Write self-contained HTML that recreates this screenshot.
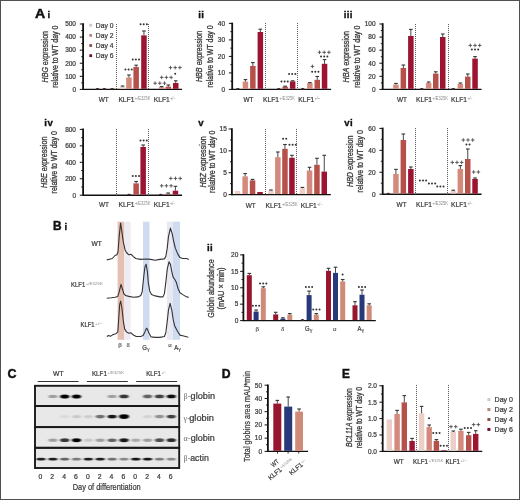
<!DOCTYPE html>
<html><head><meta charset="utf-8"><style>
html,body{margin:0;padding:0;background:#fff;}
svg{display:block;will-change:transform;}
text{font-family:"Liberation Sans", sans-serif;}
</style></head><body>
<svg width="520" height="500" viewBox="0 0 520 500">
<g fill="#3a3a3a" stroke-width="0.22">
<rect x="0" y="0" width="520" height="500" fill="#fff"/>
<text x="35.00" y="17.60" font-size="12.4" fill="#111" stroke="#111" stroke-width="0.45" font-weight="bold" textLength="10.20" lengthAdjust="spacingAndGlyphs">A</text>
<text x="48.90" y="17.60" font-size="9.6" font-weight="bold" text-anchor="middle" fill="#111" stroke="#111" stroke-width="0.35">i</text>
<line x1="83.10" y1="23.20" x2="83.10" y2="90.00" stroke="#111" stroke-width="1.8"/>
<line x1="79.80" y1="89.40" x2="83.00" y2="89.40" stroke="#111" stroke-width="1.0"/>
<text x="76.00" y="91.70" font-size="6.5" text-anchor="end" fill="#3a3a3a" stroke="#3a3a3a" stroke-width="0.22">0</text>
<line x1="81.20" y1="82.86" x2="83.00" y2="82.86" stroke="#111" stroke-width="0.9"/>
<line x1="79.80" y1="76.32" x2="83.00" y2="76.32" stroke="#111" stroke-width="1.0"/>
<text x="76.00" y="78.62" font-size="6.5" text-anchor="end" fill="#3a3a3a" stroke="#3a3a3a" stroke-width="0.22">100</text>
<line x1="81.20" y1="69.78" x2="83.00" y2="69.78" stroke="#111" stroke-width="0.9"/>
<line x1="79.80" y1="63.24" x2="83.00" y2="63.24" stroke="#111" stroke-width="1.0"/>
<text x="76.00" y="65.54" font-size="6.5" text-anchor="end" fill="#3a3a3a" stroke="#3a3a3a" stroke-width="0.22">200</text>
<line x1="81.20" y1="56.70" x2="83.00" y2="56.70" stroke="#111" stroke-width="0.9"/>
<line x1="79.80" y1="50.16" x2="83.00" y2="50.16" stroke="#111" stroke-width="1.0"/>
<text x="76.00" y="52.46" font-size="6.5" text-anchor="end" fill="#3a3a3a" stroke="#3a3a3a" stroke-width="0.22">300</text>
<line x1="81.20" y1="43.62" x2="83.00" y2="43.62" stroke="#111" stroke-width="0.9"/>
<line x1="79.80" y1="37.08" x2="83.00" y2="37.08" stroke="#111" stroke-width="1.0"/>
<text x="76.00" y="39.38" font-size="6.5" text-anchor="end" fill="#3a3a3a" stroke="#3a3a3a" stroke-width="0.22">400</text>
<line x1="81.20" y1="30.54" x2="83.00" y2="30.54" stroke="#111" stroke-width="0.9"/>
<line x1="79.80" y1="24.00" x2="83.00" y2="24.00" stroke="#111" stroke-width="1.0"/>
<text x="76.00" y="26.30" font-size="6.5" text-anchor="end" fill="#3a3a3a" stroke="#3a3a3a" stroke-width="0.22">500</text>
<text x="47.80" y="56.70" font-size="8.3" stroke="#3a3a3a" stroke-width="0.3" text-anchor="middle" textLength="51.40" lengthAdjust="spacingAndGlyphs" transform="rotate(-90 47.80 56.70)"><tspan font-style="italic">HBG</tspan> expression</text>
<text x="57.60" y="56.70" font-size="8.3" text-anchor="middle" fill="#3a3a3a" stroke="#3a3a3a" stroke-width="0.3" textLength="62.20" lengthAdjust="spacingAndGlyphs" transform="rotate(-90 57.60 56.70)">relative to WT day 0</text>
<line x1="83.00" y1="89.40" x2="182.00" y2="89.40" stroke="#111" stroke-width="1.4"/>
<line x1="116.50" y1="24.00" x2="116.50" y2="89.40" stroke="#5a5a5a" stroke-width="1.0" stroke-dasharray="1 1"/>
<line x1="148.50" y1="24.00" x2="148.50" y2="89.40" stroke="#5a5a5a" stroke-width="1.0" stroke-dasharray="1 1"/>
<ellipse cx="97.55" cy="88.80" rx="1.76" ry="0.9" fill="#3a2a2a"/>
<ellipse cx="104.35" cy="88.80" rx="1.76" ry="0.9" fill="#3a2a2a"/>
<rect x="109.40" y="88.70" width="5.50" height="0.10" fill="#9c1431"/>
<ellipse cx="112.15" cy="88.80" rx="1.76" ry="0.9" fill="#3a2a2a"/>
<rect x="119.80" y="86.80" width="5.50" height="2.00" fill="#ecd0c8"/>
<line x1="122.55" y1="86.80" x2="122.55" y2="86.00" stroke="#333" stroke-width="0.9"/>
<line x1="120.75" y1="86.00" x2="124.35" y2="86.00" stroke="#333" stroke-width="1.1"/>
<rect x="126.20" y="77.50" width="5.50" height="11.30" fill="#d3897c"/>
<line x1="128.95" y1="77.50" x2="128.95" y2="75.00" stroke="#333" stroke-width="0.9"/>
<line x1="127.15" y1="75.00" x2="130.75" y2="75.00" stroke="#333" stroke-width="1.1"/>
<rect x="133.40" y="67.00" width="5.50" height="21.80" fill="#b5504a"/>
<line x1="136.15" y1="67.00" x2="136.15" y2="65.20" stroke="#333" stroke-width="0.9"/>
<line x1="134.35" y1="65.20" x2="137.95" y2="65.20" stroke="#333" stroke-width="1.1"/>
<rect x="141.20" y="35.40" width="5.50" height="53.40" fill="#9c1431"/>
<line x1="143.95" y1="35.40" x2="143.95" y2="31.00" stroke="#333" stroke-width="0.9"/>
<line x1="142.15" y1="31.00" x2="145.75" y2="31.00" stroke="#333" stroke-width="1.1"/>
<rect x="151.40" y="88.80" width="5.50" height="0.00" fill="#ecd0c8"/>
<rect x="158.80" y="87.20" width="5.50" height="1.60" fill="#d3897c"/>
<line x1="161.55" y1="87.20" x2="161.55" y2="86.60" stroke="#333" stroke-width="0.9"/>
<line x1="159.75" y1="86.60" x2="163.35" y2="86.60" stroke="#333" stroke-width="1.1"/>
<rect x="165.60" y="86.60" width="5.50" height="2.20" fill="#b5504a"/>
<line x1="168.35" y1="86.60" x2="168.35" y2="85.00" stroke="#333" stroke-width="0.9"/>
<line x1="166.55" y1="85.00" x2="170.15" y2="85.00" stroke="#333" stroke-width="1.1"/>
<rect x="173.00" y="83.00" width="5.50" height="5.80" fill="#9c1431"/>
<line x1="175.75" y1="83.00" x2="175.75" y2="80.80" stroke="#333" stroke-width="0.9"/>
<line x1="173.95" y1="80.80" x2="177.55" y2="80.80" stroke="#333" stroke-width="1.1"/>
<text x="98.70" y="101.60" font-size="7.2" fill="#3a3a3a" stroke="#3a3a3a" stroke-width="0.22" textLength="10.00" lengthAdjust="spacingAndGlyphs">WT</text>
<text x="118.40" y="101.60" font-size="7.2" fill="#3a3a3a" stroke="#3a3a3a" stroke-width="0.22" textLength="16.00" lengthAdjust="spacingAndGlyphs">KLF1</text>
<text x="134.80" y="100.00" font-size="4.6" fill="#8c8c8c" stroke="none" textLength="15.60" lengthAdjust="spacingAndGlyphs">+/E325K</text>
<text x="153.80" y="101.60" font-size="7.2" fill="#3a3a3a" stroke="#3a3a3a" stroke-width="0.22" textLength="16.00" lengthAdjust="spacingAndGlyphs">KLF1</text>
<text x="170.20" y="100.00" font-size="4.6" fill="#8c8c8c" stroke="none" textLength="5.40" lengthAdjust="spacingAndGlyphs">+/−</text>
<circle cx="125.45" cy="69.60" r="1.0" fill="#333"/>
<circle cx="128.60" cy="69.60" r="1.0" fill="#333"/>
<circle cx="131.75" cy="69.60" r="1.0" fill="#333"/>
<circle cx="132.75" cy="59.60" r="1.0" fill="#333"/>
<circle cx="135.90" cy="59.60" r="1.0" fill="#333"/>
<circle cx="139.05" cy="59.60" r="1.0" fill="#333"/>
<circle cx="140.55" cy="24.20" r="1.0" fill="#333"/>
<circle cx="143.70" cy="24.20" r="1.0" fill="#333"/>
<circle cx="146.85" cy="24.20" r="1.0" fill="#333"/>
<path d="M153.30 83.20H156.90M155.10 81.40V85.00" stroke="#444" stroke-width="0.85" fill="none"/>
<path d="M158.00 83.20H161.60M159.80 81.40V85.00" stroke="#444" stroke-width="0.85" fill="none"/>
<path d="M162.70 83.20H166.30M164.50 81.40V85.00" stroke="#444" stroke-width="0.85" fill="none"/>
<path d="M159.90 77.40H163.50M161.70 75.60V79.20" stroke="#444" stroke-width="0.85" fill="none"/>
<path d="M164.60 77.40H168.20M166.40 75.60V79.20" stroke="#444" stroke-width="0.85" fill="none"/>
<path d="M169.30 77.40H172.90M171.10 75.60V79.20" stroke="#444" stroke-width="0.85" fill="none"/>
<circle cx="175.20" cy="73.80" r="1.0" fill="#333"/>
<path d="M168.70 67.60H172.30M170.50 65.80V69.40" stroke="#444" stroke-width="0.85" fill="none"/>
<path d="M173.40 67.60H177.00M175.20 65.80V69.40" stroke="#444" stroke-width="0.85" fill="none"/>
<path d="M178.10 67.60H181.70M179.90 65.80V69.40" stroke="#444" stroke-width="0.85" fill="none"/>
<rect x="89.30" y="23.80" width="2.80" height="2.80" fill="#d4c4c6"/>
<text x="95.80" y="27.60" font-size="6.8" fill="#3a3a3a" stroke="#3a3a3a" stroke-width="0.22" textLength="17.60" lengthAdjust="spacingAndGlyphs">Day 0</text>
<rect x="89.30" y="33.95" width="2.80" height="2.80" fill="#b08680"/>
<text x="95.80" y="37.75" font-size="6.8" fill="#3a3a3a" stroke="#3a3a3a" stroke-width="0.22" textLength="17.60" lengthAdjust="spacingAndGlyphs">Day 2</text>
<rect x="89.30" y="44.10" width="2.80" height="2.80" fill="#86524e"/>
<text x="95.80" y="47.90" font-size="6.8" fill="#3a3a3a" stroke="#3a3a3a" stroke-width="0.22" textLength="17.60" lengthAdjust="spacingAndGlyphs">Day 4</text>
<rect x="89.30" y="54.25" width="2.80" height="2.80" fill="#6c1426"/>
<text x="95.80" y="58.05" font-size="6.8" fill="#3a3a3a" stroke="#3a3a3a" stroke-width="0.22" textLength="17.60" lengthAdjust="spacingAndGlyphs">Day 6</text>
<text x="199.50" y="17.80" font-size="9.6" font-weight="bold" text-anchor="middle" fill="#111" stroke="#111" stroke-width="0.35">i</text>
<text x="202.50" y="17.80" font-size="9.6" font-weight="bold" text-anchor="middle" fill="#111" stroke="#111" stroke-width="0.35">i</text>
<line x1="232.20" y1="22.60" x2="232.20" y2="90.00" stroke="#111" stroke-width="1.8"/>
<line x1="228.90" y1="89.40" x2="232.10" y2="89.40" stroke="#111" stroke-width="1.0"/>
<text x="225.10" y="91.70" font-size="6.5" text-anchor="end" fill="#3a3a3a" stroke="#3a3a3a" stroke-width="0.22">0</text>
<line x1="230.30" y1="81.15" x2="232.10" y2="81.15" stroke="#111" stroke-width="0.9"/>
<line x1="228.90" y1="72.90" x2="232.10" y2="72.90" stroke="#111" stroke-width="1.0"/>
<text x="225.10" y="75.20" font-size="6.5" text-anchor="end" fill="#3a3a3a" stroke="#3a3a3a" stroke-width="0.22">10</text>
<line x1="230.30" y1="64.65" x2="232.10" y2="64.65" stroke="#111" stroke-width="0.9"/>
<line x1="228.90" y1="56.40" x2="232.10" y2="56.40" stroke="#111" stroke-width="1.0"/>
<text x="225.10" y="58.70" font-size="6.5" text-anchor="end" fill="#3a3a3a" stroke="#3a3a3a" stroke-width="0.22">20</text>
<line x1="230.30" y1="48.15" x2="232.10" y2="48.15" stroke="#111" stroke-width="0.9"/>
<line x1="228.90" y1="39.90" x2="232.10" y2="39.90" stroke="#111" stroke-width="1.0"/>
<text x="225.10" y="42.20" font-size="6.5" text-anchor="end" fill="#3a3a3a" stroke="#3a3a3a" stroke-width="0.22">30</text>
<line x1="230.30" y1="31.65" x2="232.10" y2="31.65" stroke="#111" stroke-width="0.9"/>
<line x1="228.90" y1="23.40" x2="232.10" y2="23.40" stroke="#111" stroke-width="1.0"/>
<text x="225.10" y="25.70" font-size="6.5" text-anchor="end" fill="#3a3a3a" stroke="#3a3a3a" stroke-width="0.22">40</text>
<text x="202.20" y="56.40" font-size="8.3" stroke="#3a3a3a" stroke-width="0.3" text-anchor="middle" textLength="51.40" lengthAdjust="spacingAndGlyphs" transform="rotate(-90 202.20 56.40)"><tspan font-style="italic">HBB</tspan> expression</text>
<text x="212.60" y="56.40" font-size="8.3" text-anchor="middle" fill="#3a3a3a" stroke="#3a3a3a" stroke-width="0.3" textLength="62.20" lengthAdjust="spacingAndGlyphs" transform="rotate(-90 212.60 56.40)">relative to WT day 0</text>
<line x1="232.10" y1="89.40" x2="331.10" y2="89.40" stroke="#111" stroke-width="1.4"/>
<line x1="265.50" y1="23.00" x2="265.50" y2="89.40" stroke="#5a5a5a" stroke-width="1.0" stroke-dasharray="1 1"/>
<line x1="297.50" y1="23.00" x2="297.50" y2="89.40" stroke="#5a5a5a" stroke-width="1.0" stroke-dasharray="1 1"/>
<rect x="235.10" y="88.40" width="5.50" height="0.40" fill="#ecd0c8"/>
<ellipse cx="237.85" cy="88.80" rx="1.76" ry="0.9" fill="#3a2a2a"/>
<rect x="242.70" y="81.60" width="5.50" height="7.20" fill="#d3897c"/>
<line x1="245.45" y1="81.60" x2="245.45" y2="79.60" stroke="#333" stroke-width="0.9"/>
<line x1="243.65" y1="79.60" x2="247.25" y2="79.60" stroke="#333" stroke-width="1.1"/>
<rect x="250.10" y="66.00" width="5.50" height="22.80" fill="#b5504a"/>
<line x1="252.85" y1="66.00" x2="252.85" y2="62.60" stroke="#333" stroke-width="0.9"/>
<line x1="251.05" y1="62.60" x2="254.65" y2="62.60" stroke="#333" stroke-width="1.1"/>
<rect x="257.60" y="32.00" width="5.50" height="56.80" fill="#9c1431"/>
<line x1="260.35" y1="32.00" x2="260.35" y2="29.20" stroke="#333" stroke-width="0.9"/>
<line x1="258.55" y1="29.20" x2="262.15" y2="29.20" stroke="#333" stroke-width="1.1"/>
<rect x="276.00" y="88.60" width="5.50" height="0.20" fill="#d3897c"/>
<ellipse cx="278.75" cy="88.80" rx="1.76" ry="0.9" fill="#3a2a2a"/>
<rect x="282.40" y="86.70" width="5.50" height="2.10" fill="#b5504a"/>
<line x1="285.15" y1="86.70" x2="285.15" y2="86.20" stroke="#333" stroke-width="0.9"/>
<line x1="283.35" y1="86.20" x2="286.95" y2="86.20" stroke="#333" stroke-width="1.1"/>
<rect x="289.90" y="81.40" width="5.50" height="7.40" fill="#9c1431"/>
<line x1="292.65" y1="81.40" x2="292.65" y2="80.80" stroke="#333" stroke-width="0.9"/>
<line x1="290.85" y1="80.80" x2="294.45" y2="80.80" stroke="#333" stroke-width="1.1"/>
<rect x="300.00" y="88.60" width="5.50" height="0.20" fill="#ecd0c8"/>
<ellipse cx="302.75" cy="88.80" rx="1.76" ry="0.9" fill="#3a2a2a"/>
<rect x="307.10" y="83.10" width="5.50" height="5.70" fill="#d3897c"/>
<line x1="309.85" y1="83.10" x2="309.85" y2="82.60" stroke="#333" stroke-width="0.9"/>
<line x1="308.05" y1="82.60" x2="311.65" y2="82.60" stroke="#333" stroke-width="1.1"/>
<rect x="314.50" y="79.80" width="5.50" height="9.00" fill="#b5504a"/>
<line x1="317.25" y1="79.80" x2="317.25" y2="76.50" stroke="#333" stroke-width="0.9"/>
<line x1="315.45" y1="76.50" x2="319.05" y2="76.50" stroke="#333" stroke-width="1.1"/>
<rect x="321.80" y="63.80" width="5.50" height="25.00" fill="#9c1431"/>
<line x1="324.55" y1="63.80" x2="324.55" y2="59.60" stroke="#333" stroke-width="0.9"/>
<line x1="322.75" y1="59.60" x2="326.35" y2="59.60" stroke="#333" stroke-width="1.1"/>
<text x="243.50" y="101.60" font-size="7.2" fill="#3a3a3a" stroke="#3a3a3a" stroke-width="0.22" textLength="10.00" lengthAdjust="spacingAndGlyphs">WT</text>
<text x="263.00" y="101.60" font-size="7.2" fill="#3a3a3a" stroke="#3a3a3a" stroke-width="0.22" textLength="16.00" lengthAdjust="spacingAndGlyphs">KLF1</text>
<text x="279.40" y="100.00" font-size="4.6" fill="#8c8c8c" stroke="none" textLength="15.60" lengthAdjust="spacingAndGlyphs">+/E325K</text>
<text x="298.30" y="101.60" font-size="7.2" fill="#3a3a3a" stroke="#3a3a3a" stroke-width="0.22" textLength="16.00" lengthAdjust="spacingAndGlyphs">KLF1</text>
<text x="314.70" y="100.00" font-size="4.6" fill="#8c8c8c" stroke="none" textLength="5.40" lengthAdjust="spacingAndGlyphs">+/−</text>
<circle cx="281.45" cy="81.40" r="1.0" fill="#333"/>
<circle cx="284.60" cy="81.40" r="1.0" fill="#333"/>
<circle cx="287.75" cy="81.40" r="1.0" fill="#333"/>
<circle cx="289.05" cy="73.90" r="1.0" fill="#333"/>
<circle cx="292.20" cy="73.90" r="1.0" fill="#333"/>
<circle cx="295.35" cy="73.90" r="1.0" fill="#333"/>
<circle cx="312.15" cy="71.80" r="1.0" fill="#333"/>
<circle cx="315.30" cy="71.80" r="1.0" fill="#333"/>
<circle cx="318.45" cy="71.80" r="1.0" fill="#333"/>
<path d="M310.60 66.40H314.20M312.40 64.60V68.20" stroke="#444" stroke-width="0.85" fill="none"/>
<circle cx="321.05" cy="56.50" r="1.0" fill="#333"/>
<circle cx="324.20" cy="56.50" r="1.0" fill="#333"/>
<circle cx="327.35" cy="56.50" r="1.0" fill="#333"/>
<path d="M317.70 52.30H321.30M319.50 50.50V54.10" stroke="#444" stroke-width="0.85" fill="none"/>
<path d="M322.40 52.30H326.00M324.20 50.50V54.10" stroke="#444" stroke-width="0.85" fill="none"/>
<path d="M327.10 52.30H330.70M328.90 50.50V54.10" stroke="#444" stroke-width="0.85" fill="none"/>
<text x="345.20" y="17.80" font-size="9.6" font-weight="bold" text-anchor="middle" fill="#111" stroke="#111" stroke-width="0.35">i</text>
<text x="348.20" y="17.80" font-size="9.6" font-weight="bold" text-anchor="middle" fill="#111" stroke="#111" stroke-width="0.35">i</text>
<text x="351.10" y="17.80" font-size="9.6" font-weight="bold" text-anchor="middle" fill="#111" stroke="#111" stroke-width="0.35">i</text>
<line x1="382.70" y1="23.20" x2="382.70" y2="90.00" stroke="#111" stroke-width="1.8"/>
<line x1="379.40" y1="89.40" x2="382.60" y2="89.40" stroke="#111" stroke-width="1.0"/>
<text x="375.60" y="91.70" font-size="6.5" text-anchor="end" fill="#3a3a3a" stroke="#3a3a3a" stroke-width="0.22">0</text>
<line x1="380.80" y1="82.86" x2="382.60" y2="82.86" stroke="#111" stroke-width="0.9"/>
<line x1="379.40" y1="76.32" x2="382.60" y2="76.32" stroke="#111" stroke-width="1.0"/>
<text x="375.60" y="78.62" font-size="6.5" text-anchor="end" fill="#3a3a3a" stroke="#3a3a3a" stroke-width="0.22">20</text>
<line x1="380.80" y1="69.78" x2="382.60" y2="69.78" stroke="#111" stroke-width="0.9"/>
<line x1="379.40" y1="63.24" x2="382.60" y2="63.24" stroke="#111" stroke-width="1.0"/>
<text x="375.60" y="65.54" font-size="6.5" text-anchor="end" fill="#3a3a3a" stroke="#3a3a3a" stroke-width="0.22">40</text>
<line x1="380.80" y1="56.70" x2="382.60" y2="56.70" stroke="#111" stroke-width="0.9"/>
<line x1="379.40" y1="50.16" x2="382.60" y2="50.16" stroke="#111" stroke-width="1.0"/>
<text x="375.60" y="52.46" font-size="6.5" text-anchor="end" fill="#3a3a3a" stroke="#3a3a3a" stroke-width="0.22">60</text>
<line x1="380.80" y1="43.62" x2="382.60" y2="43.62" stroke="#111" stroke-width="0.9"/>
<line x1="379.40" y1="37.08" x2="382.60" y2="37.08" stroke="#111" stroke-width="1.0"/>
<text x="375.60" y="39.38" font-size="6.5" text-anchor="end" fill="#3a3a3a" stroke="#3a3a3a" stroke-width="0.22">80</text>
<line x1="380.80" y1="30.54" x2="382.60" y2="30.54" stroke="#111" stroke-width="0.9"/>
<line x1="379.40" y1="24.00" x2="382.60" y2="24.00" stroke="#111" stroke-width="1.0"/>
<text x="375.60" y="26.30" font-size="6.5" text-anchor="end" fill="#3a3a3a" stroke="#3a3a3a" stroke-width="0.22">100</text>
<text x="349.40" y="56.70" font-size="8.3" stroke="#3a3a3a" stroke-width="0.3" text-anchor="middle" textLength="51.40" lengthAdjust="spacingAndGlyphs" transform="rotate(-90 349.40 56.70)"><tspan font-style="italic">HBA</tspan> expression</text>
<text x="359.80" y="56.70" font-size="8.3" text-anchor="middle" fill="#3a3a3a" stroke="#3a3a3a" stroke-width="0.3" textLength="62.20" lengthAdjust="spacingAndGlyphs" transform="rotate(-90 359.80 56.70)">relative to WT day 0</text>
<line x1="382.60" y1="89.40" x2="481.60" y2="89.40" stroke="#111" stroke-width="1.4"/>
<line x1="415.50" y1="24.00" x2="415.50" y2="89.40" stroke="#5a5a5a" stroke-width="1.0" stroke-dasharray="1 1"/>
<line x1="448.50" y1="24.00" x2="448.50" y2="89.40" stroke="#5a5a5a" stroke-width="1.0" stroke-dasharray="1 1"/>
<rect x="393.20" y="84.60" width="5.50" height="4.20" fill="#d3897c"/>
<line x1="395.95" y1="84.60" x2="395.95" y2="83.40" stroke="#333" stroke-width="0.9"/>
<line x1="394.15" y1="83.40" x2="397.75" y2="83.40" stroke="#333" stroke-width="1.1"/>
<rect x="400.60" y="68.00" width="5.50" height="20.80" fill="#b5504a"/>
<line x1="403.35" y1="68.00" x2="403.35" y2="65.00" stroke="#333" stroke-width="0.9"/>
<line x1="401.55" y1="65.00" x2="405.15" y2="65.00" stroke="#333" stroke-width="1.1"/>
<rect x="408.10" y="36.00" width="5.50" height="52.80" fill="#9c1431"/>
<line x1="410.85" y1="36.00" x2="410.85" y2="29.40" stroke="#333" stroke-width="0.9"/>
<line x1="409.05" y1="29.40" x2="412.65" y2="29.40" stroke="#333" stroke-width="1.1"/>
<rect x="419.00" y="88.70" width="5.50" height="0.10" fill="#ecd0c8"/>
<ellipse cx="421.75" cy="88.80" rx="1.76" ry="0.9" fill="#3a2a2a"/>
<rect x="425.90" y="83.00" width="5.50" height="5.80" fill="#d3897c"/>
<line x1="428.65" y1="83.00" x2="428.65" y2="82.00" stroke="#333" stroke-width="0.9"/>
<line x1="426.85" y1="82.00" x2="430.45" y2="82.00" stroke="#333" stroke-width="1.1"/>
<rect x="433.00" y="73.60" width="5.50" height="15.20" fill="#b5504a"/>
<line x1="435.75" y1="73.60" x2="435.75" y2="71.80" stroke="#333" stroke-width="0.9"/>
<line x1="433.95" y1="71.80" x2="437.55" y2="71.80" stroke="#333" stroke-width="1.1"/>
<rect x="440.00" y="37.00" width="5.50" height="51.80" fill="#9c1431"/>
<line x1="442.75" y1="37.00" x2="442.75" y2="34.00" stroke="#333" stroke-width="0.9"/>
<line x1="440.95" y1="34.00" x2="444.55" y2="34.00" stroke="#333" stroke-width="1.1"/>
<rect x="450.50" y="88.80" width="5.50" height="0.00" fill="#ecd0c8"/>
<ellipse cx="453.25" cy="88.80" rx="1.76" ry="0.9" fill="#3a2a2a"/>
<rect x="457.60" y="84.00" width="5.50" height="4.80" fill="#d3897c"/>
<line x1="460.35" y1="84.00" x2="460.35" y2="83.00" stroke="#333" stroke-width="0.9"/>
<line x1="458.55" y1="83.00" x2="462.15" y2="83.00" stroke="#333" stroke-width="1.1"/>
<rect x="465.00" y="76.60" width="5.50" height="12.20" fill="#b5504a"/>
<line x1="467.75" y1="76.60" x2="467.75" y2="74.00" stroke="#333" stroke-width="0.9"/>
<line x1="465.95" y1="74.00" x2="469.55" y2="74.00" stroke="#333" stroke-width="1.1"/>
<rect x="472.30" y="58.60" width="5.50" height="30.20" fill="#9c1431"/>
<line x1="475.05" y1="58.60" x2="475.05" y2="56.60" stroke="#333" stroke-width="0.9"/>
<line x1="473.25" y1="56.60" x2="476.85" y2="56.60" stroke="#333" stroke-width="1.1"/>
<text x="397.00" y="101.60" font-size="7.2" fill="#3a3a3a" stroke="#3a3a3a" stroke-width="0.22" textLength="10.00" lengthAdjust="spacingAndGlyphs">WT</text>
<text x="416.00" y="101.60" font-size="7.2" fill="#3a3a3a" stroke="#3a3a3a" stroke-width="0.22" textLength="16.00" lengthAdjust="spacingAndGlyphs">KLF1</text>
<text x="432.40" y="100.00" font-size="4.6" fill="#8c8c8c" stroke="none" textLength="15.60" lengthAdjust="spacingAndGlyphs">+/E325K</text>
<text x="451.00" y="101.60" font-size="7.2" fill="#3a3a3a" stroke="#3a3a3a" stroke-width="0.22" textLength="16.00" lengthAdjust="spacingAndGlyphs">KLF1</text>
<text x="467.40" y="100.00" font-size="4.6" fill="#8c8c8c" stroke="none" textLength="5.40" lengthAdjust="spacingAndGlyphs">+/−</text>
<circle cx="471.85" cy="49.60" r="1.0" fill="#333"/>
<circle cx="475.00" cy="49.60" r="1.0" fill="#333"/>
<circle cx="478.15" cy="49.60" r="1.0" fill="#333"/>
<path d="M468.50 45.40H472.10M470.30 43.60V47.20" stroke="#444" stroke-width="0.85" fill="none"/>
<path d="M473.20 45.40H476.80M475.00 43.60V47.20" stroke="#444" stroke-width="0.85" fill="none"/>
<path d="M477.90 45.40H481.50M479.70 43.60V47.20" stroke="#444" stroke-width="0.85" fill="none"/>
<text x="45.60" y="125.70" font-size="9.6" font-weight="bold" text-anchor="middle" fill="#111" stroke="#111" stroke-width="0.35">i</text>
<text x="50.10" y="125.70" font-size="9.6" font-weight="bold" text-anchor="middle" fill="#111" stroke="#111" stroke-width="0.35">v</text>
<line x1="83.10" y1="128.60" x2="83.10" y2="195.80" stroke="#111" stroke-width="1.8"/>
<line x1="79.80" y1="195.20" x2="83.00" y2="195.20" stroke="#111" stroke-width="1.0"/>
<text x="76.00" y="197.50" font-size="6.5" text-anchor="end" fill="#3a3a3a" stroke="#3a3a3a" stroke-width="0.22">0</text>
<line x1="81.20" y1="186.97" x2="83.00" y2="186.97" stroke="#111" stroke-width="0.9"/>
<line x1="79.80" y1="178.75" x2="83.00" y2="178.75" stroke="#111" stroke-width="1.0"/>
<text x="76.00" y="181.05" font-size="6.5" text-anchor="end" fill="#3a3a3a" stroke="#3a3a3a" stroke-width="0.22">200</text>
<line x1="81.20" y1="170.53" x2="83.00" y2="170.53" stroke="#111" stroke-width="0.9"/>
<line x1="79.80" y1="162.30" x2="83.00" y2="162.30" stroke="#111" stroke-width="1.0"/>
<text x="76.00" y="164.60" font-size="6.5" text-anchor="end" fill="#3a3a3a" stroke="#3a3a3a" stroke-width="0.22">400</text>
<line x1="81.20" y1="154.08" x2="83.00" y2="154.08" stroke="#111" stroke-width="0.9"/>
<line x1="79.80" y1="145.85" x2="83.00" y2="145.85" stroke="#111" stroke-width="1.0"/>
<text x="76.00" y="148.15" font-size="6.5" text-anchor="end" fill="#3a3a3a" stroke="#3a3a3a" stroke-width="0.22">600</text>
<line x1="81.20" y1="137.62" x2="83.00" y2="137.62" stroke="#111" stroke-width="0.9"/>
<line x1="79.80" y1="129.40" x2="83.00" y2="129.40" stroke="#111" stroke-width="1.0"/>
<text x="76.00" y="131.70" font-size="6.5" text-anchor="end" fill="#3a3a3a" stroke="#3a3a3a" stroke-width="0.22">800</text>
<text x="47.00" y="162.30" font-size="8.3" stroke="#3a3a3a" stroke-width="0.3" text-anchor="middle" textLength="51.40" lengthAdjust="spacingAndGlyphs" transform="rotate(-90 47.00 162.30)"><tspan font-style="italic">HBE</tspan> expression</text>
<text x="57.40" y="162.30" font-size="8.3" text-anchor="middle" fill="#3a3a3a" stroke="#3a3a3a" stroke-width="0.3" textLength="62.20" lengthAdjust="spacingAndGlyphs" transform="rotate(-90 57.40 162.30)">relative to WT day 0</text>
<line x1="83.00" y1="195.20" x2="182.00" y2="195.20" stroke="#111" stroke-width="1.4"/>
<line x1="116.50" y1="129.00" x2="116.50" y2="195.20" stroke="#5a5a5a" stroke-width="1.0" stroke-dasharray="1 1"/>
<line x1="148.50" y1="129.00" x2="148.50" y2="195.20" stroke="#5a5a5a" stroke-width="1.0" stroke-dasharray="1 1"/>
<rect x="126.30" y="194.40" width="5.50" height="0.20" fill="#d3897c"/>
<ellipse cx="129.05" cy="194.60" rx="1.76" ry="0.9" fill="#3a2a2a"/>
<rect x="133.40" y="183.40" width="5.50" height="11.20" fill="#b5504a"/>
<line x1="136.15" y1="183.40" x2="136.15" y2="181.50" stroke="#333" stroke-width="0.9"/>
<line x1="134.35" y1="181.50" x2="137.95" y2="181.50" stroke="#333" stroke-width="1.1"/>
<rect x="140.40" y="147.00" width="5.50" height="47.60" fill="#9c1431"/>
<line x1="143.15" y1="147.00" x2="143.15" y2="145.00" stroke="#333" stroke-width="0.9"/>
<line x1="141.35" y1="145.00" x2="144.95" y2="145.00" stroke="#333" stroke-width="1.1"/>
<rect x="158.00" y="194.40" width="5.50" height="0.20" fill="#d3897c"/>
<ellipse cx="160.75" cy="194.60" rx="1.76" ry="0.9" fill="#3a2a2a"/>
<rect x="165.40" y="193.80" width="5.50" height="0.80" fill="#b5504a"/>
<line x1="168.15" y1="193.80" x2="168.15" y2="193.00" stroke="#333" stroke-width="0.9"/>
<line x1="166.35" y1="193.00" x2="169.95" y2="193.00" stroke="#333" stroke-width="1.1"/>
<rect x="172.70" y="190.70" width="5.50" height="3.90" fill="#9c1431"/>
<line x1="175.45" y1="190.70" x2="175.45" y2="186.30" stroke="#333" stroke-width="0.9"/>
<line x1="173.65" y1="186.30" x2="177.25" y2="186.30" stroke="#333" stroke-width="1.1"/>
<text x="99.00" y="206.80" font-size="7.2" fill="#3a3a3a" stroke="#3a3a3a" stroke-width="0.22" textLength="10.00" lengthAdjust="spacingAndGlyphs">WT</text>
<text x="118.50" y="206.80" font-size="7.2" fill="#3a3a3a" stroke="#3a3a3a" stroke-width="0.22" textLength="16.00" lengthAdjust="spacingAndGlyphs">KLF1</text>
<text x="134.90" y="205.20" font-size="4.6" fill="#8c8c8c" stroke="none" textLength="15.60" lengthAdjust="spacingAndGlyphs">+/E325K</text>
<text x="153.70" y="206.80" font-size="7.2" fill="#3a3a3a" stroke="#3a3a3a" stroke-width="0.22" textLength="16.00" lengthAdjust="spacingAndGlyphs">KLF1</text>
<text x="170.10" y="205.20" font-size="4.6" fill="#8c8c8c" stroke="none" textLength="5.40" lengthAdjust="spacingAndGlyphs">+/−</text>
<circle cx="132.75" cy="176.00" r="1.0" fill="#333"/>
<circle cx="135.90" cy="176.00" r="1.0" fill="#333"/>
<circle cx="139.05" cy="176.00" r="1.0" fill="#333"/>
<circle cx="140.45" cy="140.40" r="1.0" fill="#333"/>
<circle cx="143.60" cy="140.40" r="1.0" fill="#333"/>
<circle cx="146.75" cy="140.40" r="1.0" fill="#333"/>
<path d="M159.90 185.80H163.50M161.70 184.00V187.60" stroke="#444" stroke-width="0.85" fill="none"/>
<path d="M164.60 185.80H168.20M166.40 184.00V187.60" stroke="#444" stroke-width="0.85" fill="none"/>
<path d="M169.30 185.80H172.90M171.10 184.00V187.60" stroke="#444" stroke-width="0.85" fill="none"/>
<path d="M169.00 178.40H172.60M170.80 176.60V180.20" stroke="#444" stroke-width="0.85" fill="none"/>
<path d="M173.70 178.40H177.30M175.50 176.60V180.20" stroke="#444" stroke-width="0.85" fill="none"/>
<path d="M178.40 178.40H182.00M180.20 176.60V180.20" stroke="#444" stroke-width="0.85" fill="none"/>
<text x="201.00" y="125.80" font-size="9.6" font-weight="bold" text-anchor="middle" fill="#111" stroke="#111" stroke-width="0.35">v</text>
<line x1="231.90" y1="128.20" x2="231.90" y2="195.20" stroke="#111" stroke-width="1.8"/>
<line x1="228.60" y1="194.60" x2="231.80" y2="194.60" stroke="#111" stroke-width="1.0"/>
<text x="226.80" y="196.90" font-size="6.5" text-anchor="end" fill="#3a3a3a" stroke="#3a3a3a" stroke-width="0.22">0</text>
<line x1="230.00" y1="183.67" x2="231.80" y2="183.67" stroke="#111" stroke-width="0.9"/>
<line x1="228.60" y1="172.73" x2="231.80" y2="172.73" stroke="#111" stroke-width="1.0"/>
<text x="226.80" y="175.03" font-size="6.5" text-anchor="end" fill="#3a3a3a" stroke="#3a3a3a" stroke-width="0.22">5</text>
<line x1="230.00" y1="161.80" x2="231.80" y2="161.80" stroke="#111" stroke-width="0.9"/>
<line x1="228.60" y1="150.87" x2="231.80" y2="150.87" stroke="#111" stroke-width="1.0"/>
<text x="226.80" y="153.17" font-size="6.5" text-anchor="end" fill="#3a3a3a" stroke="#3a3a3a" stroke-width="0.22">10</text>
<line x1="230.00" y1="139.93" x2="231.80" y2="139.93" stroke="#111" stroke-width="0.9"/>
<line x1="228.60" y1="129.00" x2="231.80" y2="129.00" stroke="#111" stroke-width="1.0"/>
<text x="226.80" y="131.30" font-size="6.5" text-anchor="end" fill="#3a3a3a" stroke="#3a3a3a" stroke-width="0.22">15</text>
<text x="205.70" y="161.80" font-size="8.3" stroke="#3a3a3a" stroke-width="0.3" text-anchor="middle" textLength="51.40" lengthAdjust="spacingAndGlyphs" transform="rotate(-90 205.70 161.80)"><tspan font-style="italic">HBZ</tspan> expression</text>
<text x="215.40" y="161.80" font-size="8.3" text-anchor="middle" fill="#3a3a3a" stroke="#3a3a3a" stroke-width="0.3" textLength="62.20" lengthAdjust="spacingAndGlyphs" transform="rotate(-90 215.40 161.80)">relative to WT day 0</text>
<line x1="231.80" y1="194.60" x2="330.80" y2="194.60" stroke="#111" stroke-width="1.4"/>
<line x1="265.50" y1="129.00" x2="265.50" y2="194.60" stroke="#5a5a5a" stroke-width="1.0" stroke-dasharray="1 1"/>
<line x1="296.50" y1="129.00" x2="296.50" y2="194.60" stroke="#5a5a5a" stroke-width="1.0" stroke-dasharray="1 1"/>
<rect x="234.80" y="191.00" width="5.50" height="3.00" fill="#ecd0c8"/>
<rect x="242.40" y="176.40" width="5.50" height="17.60" fill="#d3897c"/>
<line x1="245.15" y1="176.40" x2="245.15" y2="173.60" stroke="#333" stroke-width="0.9"/>
<line x1="243.35" y1="173.60" x2="246.95" y2="173.60" stroke="#333" stroke-width="1.1"/>
<rect x="249.80" y="180.40" width="5.50" height="13.60" fill="#b5504a"/>
<line x1="252.55" y1="180.40" x2="252.55" y2="179.40" stroke="#333" stroke-width="0.9"/>
<line x1="250.75" y1="179.40" x2="254.35" y2="179.40" stroke="#333" stroke-width="1.1"/>
<rect x="257.30" y="192.00" width="5.50" height="2.00" fill="#9c1431"/>
<rect x="268.20" y="190.60" width="5.50" height="3.40" fill="#ecd0c8"/>
<line x1="270.95" y1="190.60" x2="270.95" y2="190.00" stroke="#333" stroke-width="0.9"/>
<line x1="269.15" y1="190.00" x2="272.75" y2="190.00" stroke="#333" stroke-width="1.1"/>
<rect x="275.10" y="157.20" width="5.50" height="36.80" fill="#d3897c"/>
<line x1="277.85" y1="157.20" x2="277.85" y2="152.00" stroke="#333" stroke-width="0.9"/>
<line x1="276.05" y1="152.00" x2="279.65" y2="152.00" stroke="#333" stroke-width="1.1"/>
<rect x="282.20" y="148.80" width="5.50" height="45.20" fill="#b5504a"/>
<line x1="284.95" y1="148.80" x2="284.95" y2="144.50" stroke="#333" stroke-width="0.9"/>
<line x1="283.15" y1="144.50" x2="286.75" y2="144.50" stroke="#333" stroke-width="1.1"/>
<rect x="289.20" y="157.80" width="5.50" height="36.20" fill="#9c1431"/>
<line x1="291.95" y1="157.80" x2="291.95" y2="155.30" stroke="#333" stroke-width="0.9"/>
<line x1="290.15" y1="155.30" x2="293.75" y2="155.30" stroke="#333" stroke-width="1.1"/>
<rect x="299.70" y="188.20" width="5.50" height="5.80" fill="#ecd0c8"/>
<line x1="302.45" y1="188.20" x2="302.45" y2="187.40" stroke="#333" stroke-width="0.9"/>
<line x1="300.65" y1="187.40" x2="304.25" y2="187.40" stroke="#333" stroke-width="1.1"/>
<rect x="306.80" y="170.50" width="5.50" height="23.50" fill="#d3897c"/>
<line x1="309.55" y1="170.50" x2="309.55" y2="167.30" stroke="#333" stroke-width="0.9"/>
<line x1="307.75" y1="167.30" x2="311.35" y2="167.30" stroke="#333" stroke-width="1.1"/>
<rect x="314.20" y="164.80" width="5.50" height="29.20" fill="#b5504a"/>
<line x1="316.95" y1="164.80" x2="316.95" y2="158.30" stroke="#333" stroke-width="0.9"/>
<line x1="315.15" y1="158.30" x2="318.75" y2="158.30" stroke="#333" stroke-width="1.1"/>
<rect x="321.50" y="171.60" width="5.50" height="22.40" fill="#9c1431"/>
<line x1="324.25" y1="171.60" x2="324.25" y2="155.30" stroke="#333" stroke-width="0.9"/>
<line x1="322.45" y1="155.30" x2="326.05" y2="155.30" stroke="#333" stroke-width="1.1"/>
<text x="245.80" y="207.70" font-size="7.2" fill="#3a3a3a" stroke="#3a3a3a" stroke-width="0.22" textLength="10.00" lengthAdjust="spacingAndGlyphs">WT</text>
<text x="265.60" y="207.70" font-size="7.2" fill="#3a3a3a" stroke="#3a3a3a" stroke-width="0.22" textLength="16.00" lengthAdjust="spacingAndGlyphs">KLF1</text>
<text x="282.00" y="206.10" font-size="4.6" fill="#8c8c8c" stroke="none" textLength="15.60" lengthAdjust="spacingAndGlyphs">+/E325K</text>
<text x="300.80" y="207.70" font-size="7.2" fill="#3a3a3a" stroke="#3a3a3a" stroke-width="0.22" textLength="16.00" lengthAdjust="spacingAndGlyphs">KLF1</text>
<text x="317.20" y="206.10" font-size="4.6" fill="#8c8c8c" stroke="none" textLength="5.40" lengthAdjust="spacingAndGlyphs">+/−</text>
<circle cx="283.12" cy="138.80" r="1.0" fill="#333"/>
<circle cx="286.27" cy="138.80" r="1.0" fill="#333"/>
<circle cx="289.45" cy="144.80" r="1.0" fill="#333"/>
<circle cx="292.60" cy="144.80" r="1.0" fill="#333"/>
<circle cx="295.75" cy="144.80" r="1.0" fill="#333"/>
<text x="346.80" y="125.60" font-size="9.6" font-weight="bold" text-anchor="middle" fill="#111" stroke="#111" stroke-width="0.35">v</text>
<text x="351.30" y="125.60" font-size="9.6" font-weight="bold" text-anchor="middle" fill="#111" stroke="#111" stroke-width="0.35">i</text>
<line x1="382.70" y1="127.60" x2="382.70" y2="194.80" stroke="#111" stroke-width="1.8"/>
<line x1="379.40" y1="194.20" x2="382.60" y2="194.20" stroke="#111" stroke-width="1.0"/>
<text x="375.60" y="196.50" font-size="6.5" text-anchor="end" fill="#3a3a3a" stroke="#3a3a3a" stroke-width="0.22">0</text>
<line x1="380.80" y1="183.23" x2="382.60" y2="183.23" stroke="#111" stroke-width="0.9"/>
<line x1="379.40" y1="172.27" x2="382.60" y2="172.27" stroke="#111" stroke-width="1.0"/>
<text x="375.60" y="174.57" font-size="6.5" text-anchor="end" fill="#3a3a3a" stroke="#3a3a3a" stroke-width="0.22">20</text>
<line x1="380.80" y1="161.30" x2="382.60" y2="161.30" stroke="#111" stroke-width="0.9"/>
<line x1="379.40" y1="150.33" x2="382.60" y2="150.33" stroke="#111" stroke-width="1.0"/>
<text x="375.60" y="152.63" font-size="6.5" text-anchor="end" fill="#3a3a3a" stroke="#3a3a3a" stroke-width="0.22">40</text>
<line x1="380.80" y1="139.37" x2="382.60" y2="139.37" stroke="#111" stroke-width="0.9"/>
<line x1="379.40" y1="128.40" x2="382.60" y2="128.40" stroke="#111" stroke-width="1.0"/>
<text x="375.60" y="130.70" font-size="6.5" text-anchor="end" fill="#3a3a3a" stroke="#3a3a3a" stroke-width="0.22">60</text>
<text x="352.80" y="161.30" font-size="8.3" stroke="#3a3a3a" stroke-width="0.3" text-anchor="middle" textLength="51.40" lengthAdjust="spacingAndGlyphs" transform="rotate(-90 352.80 161.30)"><tspan font-style="italic">HBD</tspan> expression</text>
<text x="363.30" y="161.30" font-size="8.3" text-anchor="middle" fill="#3a3a3a" stroke="#3a3a3a" stroke-width="0.3" textLength="62.20" lengthAdjust="spacingAndGlyphs" transform="rotate(-90 363.30 161.30)">relative to WT day 0</text>
<line x1="382.60" y1="194.20" x2="481.60" y2="194.20" stroke="#111" stroke-width="1.4"/>
<line x1="415.50" y1="128.00" x2="415.50" y2="194.20" stroke="#5a5a5a" stroke-width="1.0" stroke-dasharray="1 1"/>
<line x1="447.50" y1="128.00" x2="447.50" y2="194.20" stroke="#5a5a5a" stroke-width="1.0" stroke-dasharray="1 1"/>
<rect x="385.60" y="193.40" width="5.50" height="0.20" fill="#ecd0c8"/>
<ellipse cx="388.35" cy="193.60" rx="1.76" ry="0.9" fill="#3a2a2a"/>
<rect x="393.20" y="174.00" width="5.50" height="19.60" fill="#d3897c"/>
<line x1="395.95" y1="174.00" x2="395.95" y2="169.40" stroke="#333" stroke-width="0.9"/>
<line x1="394.15" y1="169.40" x2="397.75" y2="169.40" stroke="#333" stroke-width="1.1"/>
<rect x="400.60" y="140.00" width="5.50" height="53.60" fill="#b5504a"/>
<line x1="403.35" y1="140.00" x2="403.35" y2="134.00" stroke="#333" stroke-width="0.9"/>
<line x1="401.55" y1="134.00" x2="405.15" y2="134.00" stroke="#333" stroke-width="1.1"/>
<rect x="408.10" y="169.00" width="5.50" height="24.60" fill="#9c1431"/>
<line x1="410.85" y1="169.00" x2="410.85" y2="167.00" stroke="#333" stroke-width="0.9"/>
<line x1="409.05" y1="167.00" x2="412.65" y2="167.00" stroke="#333" stroke-width="1.1"/>
<rect x="450.50" y="191.00" width="5.50" height="2.60" fill="#ecd0c8"/>
<line x1="453.25" y1="191.00" x2="453.25" y2="190.20" stroke="#333" stroke-width="0.9"/>
<line x1="451.45" y1="190.20" x2="455.05" y2="190.20" stroke="#333" stroke-width="1.1"/>
<rect x="457.60" y="169.00" width="5.50" height="24.60" fill="#d3897c"/>
<line x1="460.35" y1="169.00" x2="460.35" y2="165.60" stroke="#333" stroke-width="0.9"/>
<line x1="458.55" y1="165.60" x2="462.15" y2="165.60" stroke="#333" stroke-width="1.1"/>
<rect x="465.00" y="159.00" width="5.50" height="34.60" fill="#b5504a"/>
<line x1="467.75" y1="159.00" x2="467.75" y2="149.00" stroke="#333" stroke-width="0.9"/>
<line x1="465.95" y1="149.00" x2="469.55" y2="149.00" stroke="#333" stroke-width="1.1"/>
<rect x="472.30" y="179.00" width="5.50" height="14.60" fill="#9c1431"/>
<line x1="475.05" y1="179.00" x2="475.05" y2="178.00" stroke="#333" stroke-width="0.9"/>
<line x1="473.25" y1="178.00" x2="476.85" y2="178.00" stroke="#333" stroke-width="1.1"/>
<text x="396.60" y="206.60" font-size="7.2" fill="#3a3a3a" stroke="#3a3a3a" stroke-width="0.22" textLength="10.00" lengthAdjust="spacingAndGlyphs">WT</text>
<text x="416.00" y="206.60" font-size="7.2" fill="#3a3a3a" stroke="#3a3a3a" stroke-width="0.22" textLength="16.00" lengthAdjust="spacingAndGlyphs">KLF1</text>
<text x="432.40" y="205.00" font-size="4.6" fill="#8c8c8c" stroke="none" textLength="15.60" lengthAdjust="spacingAndGlyphs">+/E325K</text>
<text x="451.00" y="206.60" font-size="7.2" fill="#3a3a3a" stroke="#3a3a3a" stroke-width="0.22" textLength="16.00" lengthAdjust="spacingAndGlyphs">KLF1</text>
<text x="467.40" y="205.00" font-size="4.6" fill="#8c8c8c" stroke="none" textLength="5.40" lengthAdjust="spacingAndGlyphs">+/−</text>
<circle cx="419.85" cy="180.40" r="1.0" fill="#333"/>
<circle cx="423.00" cy="180.40" r="1.0" fill="#333"/>
<circle cx="426.15" cy="180.40" r="1.0" fill="#333"/>
<circle cx="428.85" cy="183.60" r="1.0" fill="#333"/>
<circle cx="432.00" cy="183.60" r="1.0" fill="#333"/>
<circle cx="435.15" cy="183.60" r="1.0" fill="#333"/>
<circle cx="437.25" cy="186.60" r="1.0" fill="#333"/>
<circle cx="440.40" cy="186.60" r="1.0" fill="#333"/>
<circle cx="443.55" cy="186.60" r="1.0" fill="#333"/>
<path d="M450.50 162.40H454.10M452.30 160.60V164.20" stroke="#444" stroke-width="0.85" fill="none"/>
<path d="M455.20 162.40H458.80M457.00 160.60V164.20" stroke="#444" stroke-width="0.85" fill="none"/>
<path d="M459.90 162.40H463.50M461.70 160.60V164.20" stroke="#444" stroke-width="0.85" fill="none"/>
<path d="M461.50 140.00H465.10M463.30 138.20V141.80" stroke="#444" stroke-width="0.85" fill="none"/>
<path d="M466.20 140.00H469.80M468.00 138.20V141.80" stroke="#444" stroke-width="0.85" fill="none"/>
<path d="M470.90 140.00H474.50M472.70 138.20V141.80" stroke="#444" stroke-width="0.85" fill="none"/>
<circle cx="466.43" cy="144.40" r="1.0" fill="#333"/>
<circle cx="469.57" cy="144.40" r="1.0" fill="#333"/>
<path d="M471.85 172.00H475.45M473.65 170.20V173.80" stroke="#444" stroke-width="0.85" fill="none"/>
<path d="M476.55 172.00H480.15M478.35 170.20V173.80" stroke="#444" stroke-width="0.85" fill="none"/>
<text x="53.00" y="229.80" font-size="12.8" fill="#111" stroke="#111" stroke-width="0.45" font-weight="bold" textLength="8.60" lengthAdjust="spacingAndGlyphs">B</text>
<text x="65.75" y="229.70" font-size="9.6" font-weight="bold" text-anchor="middle" fill="#111" stroke="#111" stroke-width="0.35">i</text>
<rect x="117.60" y="221.70" width="6.60" height="118.10" fill="#e4bfb2"/>
<rect x="124.20" y="221.70" width="6.40" height="118.10" fill="#eeebf2"/>
<rect x="143.00" y="221.70" width="6.50" height="118.10" fill="#cedbf1"/>
<rect x="166.80" y="221.70" width="6.00" height="118.10" fill="#eae9f2"/>
<rect x="172.80" y="221.70" width="7.30" height="118.10" fill="#cedbf1"/>
<polyline points="106.8,259.9 109.5,259.2 112.3,258.5 115.0,255.5 116.9,254.8 118.0,252.0 119.2,236.4 120.6,223.1 121.9,231.8 123.3,241.9 125.0,249.7 126.5,252.5 128.8,254.8 131.1,254.3 133.4,256.6 135.7,258.5 140.8,259.4 146.3,259.0 150.6,259.4 155.2,260.3 159.8,259.4 164.4,258.9 165.8,256.6 167.2,248.4 168.5,236.4 170.4,228.1 172.2,233.6 173.6,241.0 175.4,248.4 177.7,253.9 180.0,257.6 182.8,258.5 186.5,258.5 188.8,259.4" fill="none" stroke="#333" stroke-width="1.1" stroke-linejoin="round"/>
<polyline points="106.8,298.2 111.4,297.8 115.0,297.3 117.8,296.4 119.2,291.8 121.0,284.4 122.4,289.0 123.8,293.6 125.6,295.5 128.8,296.4 133.4,297.3 138.0,296.9 140.8,295.5 142.2,291.8 143.6,278.0 144.9,267.0 146.1,264.2 147.4,271.6 148.3,282.6 149.7,290.9 151.5,294.6 155.2,295.9 159.8,296.9 163.0,296.9 164.4,293.6 165.8,282.6 167.3,268.8 169.0,261.9 170.4,264.2 171.8,271.6 173.1,277.1 175.0,279.8 176.4,282.6 178.2,289.0 180.0,292.7 182.8,294.6 186.5,296.9 188.8,297.3" fill="none" stroke="#333" stroke-width="1.1" stroke-linejoin="round"/>
<polyline points="106.8,336.5 108.6,335.6 110.4,336.3 112.3,335.1 114.1,334.2 116.0,333.7 117.8,331.9 118.7,319.0 119.6,305.2 120.6,301.1 121.9,308.0 123.3,320.8 124.7,329.1 126.5,331.9 128.8,333.3 131.1,332.8 133.4,335.1 136.2,336.5 140.8,336.5 143.1,335.6 144.9,331.9 146.5,328.2 147.4,329.1 148.8,332.8 151.1,336.9 155.2,337.4 159.8,337.4 164.4,336.5 165.8,332.8 167.2,321.8 168.5,309.8 170.1,303.4 171.8,309.8 173.1,319.0 174.5,325.4 177.3,331.0 180.0,335.1 183.7,336.0 188.3,337.2" fill="none" stroke="#333" stroke-width="1.1" stroke-linejoin="round"/>
<text x="91.60" y="245.80" font-size="6.5" fill="#3a3a3a" stroke="#3a3a3a" stroke-width="0.22" textLength="10.20" lengthAdjust="spacingAndGlyphs">WT</text>
<text x="71.10" y="286.60" font-size="6.5" fill="#3a3a3a" stroke="#3a3a3a" stroke-width="0.22" textLength="14.20" lengthAdjust="spacingAndGlyphs">KLF1</text>
<text x="85.70" y="285.00" font-size="4.2" fill="#8c8c8c" stroke="none" textLength="17.40" lengthAdjust="spacingAndGlyphs">+/E325K</text>
<text x="80.60" y="326.50" font-size="6.5" fill="#3a3a3a" stroke="#3a3a3a" stroke-width="0.22" textLength="14.00" lengthAdjust="spacingAndGlyphs">KLF1</text>
<text x="95.00" y="324.90" font-size="4.2" fill="#8c8c8c" stroke="none" textLength="7.40" lengthAdjust="spacingAndGlyphs">+/−</text>
<text x="118.30" y="347.00" font-size="7.0" fill="#555" stroke="#555" stroke-width="0.15" style="font-family:'Liberation Serif',serif">β</text>
<text x="126.40" y="347.00" font-size="7.0" fill="#555" stroke="#555" stroke-width="0.15" style="font-family:'Liberation Serif',serif">δ</text>
<text x="142.20" y="349.90" font-size="6.8" fill="#3a3a3a" stroke="#3a3a3a" stroke-width="0.22" textLength="4.60" lengthAdjust="spacingAndGlyphs">G</text>
<text x="146.90" y="350.80" font-size="6.0" fill="#555" stroke="#555" stroke-width="0.15" style="font-family:'Liberation Serif',serif">γ</text>
<text x="168.30" y="346.60" font-size="6.6" fill="#555" stroke="#555" stroke-width="0.15" style="font-family:'Liberation Serif',serif">α</text>
<text x="174.20" y="349.90" font-size="6.8" fill="#3a3a3a" stroke="#3a3a3a" stroke-width="0.22" textLength="3.90" lengthAdjust="spacingAndGlyphs">A</text>
<text x="178.20" y="350.80" font-size="6.0" fill="#555" stroke="#555" stroke-width="0.15" style="font-family:'Liberation Serif',serif">γ</text>
<text x="208.30" y="251.30" font-size="9.6" font-weight="bold" text-anchor="middle" fill="#111" stroke="#111" stroke-width="0.35">i</text>
<text x="211.40" y="251.30" font-size="9.6" font-weight="bold" text-anchor="middle" fill="#111" stroke="#111" stroke-width="0.35">i</text>
<line x1="243.40" y1="254.10" x2="243.40" y2="321.20" stroke="#111" stroke-width="1.8"/>
<line x1="240.10" y1="320.60" x2="243.30" y2="320.60" stroke="#111" stroke-width="1.0"/>
<text x="238.30" y="322.90" font-size="6.5" text-anchor="end" fill="#3a3a3a" stroke="#3a3a3a" stroke-width="0.22">0</text>
<line x1="241.50" y1="312.39" x2="243.30" y2="312.39" stroke="#111" stroke-width="0.9"/>
<line x1="240.10" y1="304.18" x2="243.30" y2="304.18" stroke="#111" stroke-width="1.0"/>
<text x="238.30" y="306.48" font-size="6.5" text-anchor="end" fill="#3a3a3a" stroke="#3a3a3a" stroke-width="0.22">5</text>
<line x1="241.50" y1="295.96" x2="243.30" y2="295.96" stroke="#111" stroke-width="0.9"/>
<line x1="240.10" y1="287.75" x2="243.30" y2="287.75" stroke="#111" stroke-width="1.0"/>
<text x="238.30" y="290.05" font-size="6.5" text-anchor="end" fill="#3a3a3a" stroke="#3a3a3a" stroke-width="0.22">10</text>
<line x1="241.50" y1="279.54" x2="243.30" y2="279.54" stroke="#111" stroke-width="0.9"/>
<line x1="240.10" y1="271.32" x2="243.30" y2="271.32" stroke="#111" stroke-width="1.0"/>
<text x="238.30" y="273.62" font-size="6.5" text-anchor="end" fill="#3a3a3a" stroke="#3a3a3a" stroke-width="0.22">15</text>
<line x1="241.50" y1="263.11" x2="243.30" y2="263.11" stroke="#111" stroke-width="0.9"/>
<line x1="240.10" y1="254.90" x2="243.30" y2="254.90" stroke="#111" stroke-width="1.0"/>
<text x="238.30" y="257.20" font-size="6.5" text-anchor="end" fill="#3a3a3a" stroke="#3a3a3a" stroke-width="0.22">20</text>
<line x1="243.30" y1="320.60" x2="375.80" y2="320.60" stroke="#111" stroke-width="1.4"/>
<text x="214.20" y="288.50" font-size="8.6" stroke="#3a3a3a" stroke-width="0.3" text-anchor="middle" textLength="58.30" lengthAdjust="spacingAndGlyphs" transform="rotate(-90 214.20 288.50)"><tspan font-style="italic"></tspan>Globin abundance</text>
<text x="223.80" y="288.50" font-size="8.6" text-anchor="middle" fill="#3a3a3a" stroke="#3a3a3a" stroke-width="0.3" textLength="42.20" lengthAdjust="spacingAndGlyphs" transform="rotate(-90 223.80 288.50)">(mAU × min)</text>
<rect x="246.80" y="275.20" width="5.00" height="44.80" fill="#981530"/>
<line x1="249.30" y1="275.20" x2="249.30" y2="273.40" stroke="#333" stroke-width="0.9"/>
<line x1="247.50" y1="273.40" x2="251.10" y2="273.40" stroke="#333" stroke-width="1.1"/>
<rect x="253.60" y="311.60" width="5.00" height="8.40" fill="#27397a"/>
<line x1="256.10" y1="311.60" x2="256.10" y2="310.00" stroke="#333" stroke-width="0.9"/>
<line x1="254.30" y1="310.00" x2="257.90" y2="310.00" stroke="#333" stroke-width="1.1"/>
<rect x="260.80" y="288.20" width="5.00" height="31.80" fill="#cf8a78"/>
<line x1="263.30" y1="288.20" x2="263.30" y2="286.80" stroke="#333" stroke-width="0.9"/>
<line x1="261.50" y1="286.80" x2="265.10" y2="286.80" stroke="#333" stroke-width="1.1"/>
<rect x="273.20" y="314.40" width="5.00" height="5.60" fill="#981530"/>
<line x1="275.70" y1="314.40" x2="275.70" y2="312.30" stroke="#333" stroke-width="0.9"/>
<line x1="273.90" y1="312.30" x2="277.50" y2="312.30" stroke="#333" stroke-width="1.1"/>
<rect x="280.40" y="318.60" width="5.00" height="1.40" fill="#27397a"/>
<line x1="282.90" y1="318.60" x2="282.90" y2="317.80" stroke="#333" stroke-width="0.9"/>
<line x1="281.10" y1="317.80" x2="284.70" y2="317.80" stroke="#333" stroke-width="1.1"/>
<rect x="287.30" y="314.80" width="5.00" height="5.20" fill="#cf8a78"/>
<line x1="289.80" y1="314.80" x2="289.80" y2="313.60" stroke="#333" stroke-width="0.9"/>
<line x1="288.00" y1="313.60" x2="291.60" y2="313.60" stroke="#333" stroke-width="1.1"/>
<rect x="300.00" y="319.90" width="5.00" height="0.10" fill="#981530"/>
<ellipse cx="302.50" cy="320.00" rx="1.60" ry="0.9" fill="#3a2a2a"/>
<rect x="306.60" y="295.10" width="5.00" height="24.90" fill="#27397a"/>
<line x1="309.10" y1="295.10" x2="309.10" y2="291.10" stroke="#333" stroke-width="0.9"/>
<line x1="307.30" y1="291.10" x2="310.90" y2="291.10" stroke="#333" stroke-width="1.1"/>
<rect x="313.80" y="314.80" width="5.00" height="5.20" fill="#cf8a78"/>
<line x1="316.30" y1="314.80" x2="316.30" y2="313.60" stroke="#333" stroke-width="0.9"/>
<line x1="314.50" y1="313.60" x2="318.10" y2="313.60" stroke="#333" stroke-width="1.1"/>
<rect x="326.00" y="270.80" width="5.00" height="49.20" fill="#981530"/>
<line x1="328.50" y1="270.80" x2="328.50" y2="268.30" stroke="#333" stroke-width="0.9"/>
<line x1="326.70" y1="268.30" x2="330.30" y2="268.30" stroke="#333" stroke-width="1.1"/>
<rect x="333.00" y="272.90" width="5.00" height="47.10" fill="#27397a"/>
<line x1="335.50" y1="272.90" x2="335.50" y2="267.20" stroke="#333" stroke-width="0.9"/>
<line x1="333.70" y1="267.20" x2="337.30" y2="267.20" stroke="#333" stroke-width="1.1"/>
<rect x="340.20" y="281.40" width="5.00" height="38.60" fill="#cf8a78"/>
<line x1="342.70" y1="281.40" x2="342.70" y2="279.50" stroke="#333" stroke-width="0.9"/>
<line x1="340.90" y1="279.50" x2="344.50" y2="279.50" stroke="#333" stroke-width="1.1"/>
<rect x="352.50" y="305.30" width="5.00" height="14.70" fill="#981530"/>
<line x1="355.00" y1="305.30" x2="355.00" y2="301.70" stroke="#333" stroke-width="0.9"/>
<line x1="353.20" y1="301.70" x2="356.80" y2="301.70" stroke="#333" stroke-width="1.1"/>
<rect x="359.50" y="294.70" width="5.00" height="25.30" fill="#27397a"/>
<line x1="362.00" y1="294.70" x2="362.00" y2="290.00" stroke="#333" stroke-width="0.9"/>
<line x1="360.20" y1="290.00" x2="363.80" y2="290.00" stroke="#333" stroke-width="1.1"/>
<rect x="366.70" y="305.30" width="5.00" height="14.70" fill="#cf8a78"/>
<line x1="369.20" y1="305.30" x2="369.20" y2="303.80" stroke="#333" stroke-width="0.9"/>
<line x1="367.40" y1="303.80" x2="371.00" y2="303.80" stroke="#333" stroke-width="1.1"/>
<circle cx="252.85" cy="305.80" r="1.0" fill="#333"/>
<circle cx="256.00" cy="305.80" r="1.0" fill="#333"/>
<circle cx="259.15" cy="305.80" r="1.0" fill="#333"/>
<circle cx="260.05" cy="283.40" r="1.0" fill="#333"/>
<circle cx="263.20" cy="283.40" r="1.0" fill="#333"/>
<circle cx="266.35" cy="283.40" r="1.0" fill="#333"/>
<circle cx="305.85" cy="287.00" r="1.0" fill="#333"/>
<circle cx="309.00" cy="287.00" r="1.0" fill="#333"/>
<circle cx="312.15" cy="287.00" r="1.0" fill="#333"/>
<circle cx="313.25" cy="309.60" r="1.0" fill="#333"/>
<circle cx="316.40" cy="309.60" r="1.0" fill="#333"/>
<circle cx="319.55" cy="309.60" r="1.0" fill="#333"/>
<circle cx="342.60" cy="274.40" r="1.0" fill="#333"/>
<circle cx="358.85" cy="287.00" r="1.0" fill="#333"/>
<circle cx="362.00" cy="287.00" r="1.0" fill="#333"/>
<circle cx="365.15" cy="287.00" r="1.0" fill="#333"/>
<text x="255.60" y="331.20" font-size="7.0" fill="#555" stroke="#555" stroke-width="0.15" style="font-family:'Liberation Serif',serif">β</text>
<text x="280.90" y="331.20" font-size="7.0" fill="#555" stroke="#555" stroke-width="0.15" style="font-family:'Liberation Serif',serif">δ</text>
<text x="305.00" y="331.40" font-size="6.8" fill="#3a3a3a" stroke="#3a3a3a" stroke-width="0.22" textLength="4.60" lengthAdjust="spacingAndGlyphs">G</text>
<text x="309.80" y="332.20" font-size="6.0" fill="#555" stroke="#555" stroke-width="0.15" style="font-family:'Liberation Serif',serif">γ</text>
<text x="333.10" y="330.80" font-size="6.6" fill="#555" stroke="#555" stroke-width="0.15" style="font-family:'Liberation Serif',serif">α</text>
<text x="357.40" y="331.40" font-size="6.8" fill="#3a3a3a" stroke="#3a3a3a" stroke-width="0.22" textLength="3.90" lengthAdjust="spacingAndGlyphs">A</text>
<text x="361.40" y="332.20" font-size="6.0" fill="#555" stroke="#555" stroke-width="0.15" style="font-family:'Liberation Serif',serif">γ</text>
<text x="7.40" y="378.40" font-size="12.8" fill="#111" stroke="#111" stroke-width="0.45" font-weight="bold" textLength="9.00" lengthAdjust="spacingAndGlyphs">C</text>
<text x="53.00" y="375.90" font-size="6.5" fill="#3a3a3a" stroke="#3a3a3a" stroke-width="0.22" textLength="10.60" lengthAdjust="spacingAndGlyphs">WT</text>
<text x="91.90" y="375.80" font-size="6.5" fill="#3a3a3a" stroke="#3a3a3a" stroke-width="0.22" textLength="15.00" lengthAdjust="spacingAndGlyphs">KLF1</text>
<text x="107.30" y="374.20" font-size="4.2" fill="#8c8c8c" stroke="none" textLength="16.80" lengthAdjust="spacingAndGlyphs">+/E325K</text>
<text x="146.30" y="375.80" font-size="6.5" fill="#3a3a3a" stroke="#3a3a3a" stroke-width="0.22" textLength="14.60" lengthAdjust="spacingAndGlyphs">KLF1</text>
<text x="161.30" y="374.20" font-size="4.2" fill="#8c8c8c" stroke="none" textLength="4.80" lengthAdjust="spacingAndGlyphs">+/−</text>
<line x1="37.70" y1="381.50" x2="78.60" y2="381.50" stroke="#333" stroke-width="1.0"/>
<line x1="86.90" y1="381.50" x2="127.80" y2="381.50" stroke="#333" stroke-width="1.0"/>
<line x1="136.20" y1="381.50" x2="177.10" y2="381.50" stroke="#333" stroke-width="1.0"/>
<defs><filter id="bl" x="-50%" y="-100%" width="200%" height="300%"><feGaussianBlur stdDeviation="1.0 0.6"/></filter></defs>
<rect x="35.00" y="385.80" width="144.20" height="20.20" fill="#e8e8e8"/>
<rect x="35.00" y="406.00" width="144.20" height="21.10" fill="#e8e8e8"/>
<rect x="35.00" y="427.10" width="144.20" height="20.70" fill="#e8e8e8"/>
<rect x="35.00" y="447.80" width="144.20" height="20.20" fill="#e8e8e8"/>
<ellipse cx="52.9" cy="396.4" rx="4.6" ry="1.7200000000000002" fill="rgb(159,159,159)" filter="url(#bl)"/>
<ellipse cx="64.7" cy="396.4" rx="4.6" ry="2.0" fill="rgb(0,0,0)" filter="url(#bl)"/>
<ellipse cx="76.5" cy="396.4" rx="4.6" ry="2.0" fill="rgb(0,0,0)" filter="url(#bl)"/>
<ellipse cx="112.1" cy="396.4" rx="4.6" ry="1.7200000000000002" fill="rgb(159,159,159)" filter="url(#bl)"/>
<ellipse cx="124.0" cy="396.4" rx="4.6" ry="1.9000000000000001" fill="rgb(53,53,53)" filter="url(#bl)"/>
<ellipse cx="147.6" cy="396.4" rx="4.6" ry="1.82" fill="rgb(100,100,100)" filter="url(#bl)"/>
<ellipse cx="159.5" cy="396.4" rx="4.6" ry="1.8800000000000001" fill="rgb(65,65,65)" filter="url(#bl)"/>
<ellipse cx="171.3" cy="396.4" rx="4.6" ry="1.9680000000000002" fill="rgb(13,13,13)" filter="url(#bl)"/>
<ellipse cx="64.7" cy="416.6" rx="4.6" ry="1.62" fill="rgb(218,218,218)" filter="url(#bl)"/>
<ellipse cx="76.5" cy="416.6" rx="4.6" ry="1.6480000000000001" fill="rgb(201,201,201)" filter="url(#bl)"/>
<ellipse cx="88.4" cy="416.6" rx="4.6" ry="1.6400000000000001" fill="rgb(206,206,206)" filter="url(#bl)"/>
<ellipse cx="100.2" cy="416.6" rx="4.6" ry="1.8" fill="rgb(112,112,112)" filter="url(#bl)"/>
<ellipse cx="112.1" cy="416.6" rx="4.6" ry="1.9600000000000002" fill="rgb(18,18,18)" filter="url(#bl)"/>
<ellipse cx="124.0" cy="416.6" rx="5.0" ry="2.4" fill="rgb(0,0,0)" filter="url(#bl)"/>
<ellipse cx="147.6" cy="416.6" rx="4.6" ry="1.6320000000000001" fill="rgb(211,211,211)" filter="url(#bl)"/>
<ellipse cx="159.5" cy="416.6" rx="4.6" ry="1.74" fill="rgb(147,147,147)" filter="url(#bl)"/>
<ellipse cx="171.3" cy="416.6" rx="4.6" ry="1.8800000000000001" fill="rgb(65,65,65)" filter="url(#bl)"/>
<ellipse cx="52.9" cy="440.2" rx="4.6" ry="1.7200000000000002" fill="rgb(159,159,159)" filter="url(#bl)"/>
<ellipse cx="64.7" cy="440.2" rx="4.6" ry="1.9000000000000001" fill="rgb(53,53,53)" filter="url(#bl)"/>
<ellipse cx="76.5" cy="440.2" rx="4.6" ry="1.98" fill="rgb(6,6,6)" filter="url(#bl)"/>
<ellipse cx="88.4" cy="440.2" rx="4.6" ry="1.6480000000000001" fill="rgb(201,201,201)" filter="url(#bl)"/>
<ellipse cx="100.2" cy="440.2" rx="4.6" ry="1.7200000000000002" fill="rgb(159,159,159)" filter="url(#bl)"/>
<ellipse cx="112.1" cy="440.2" rx="4.6" ry="1.82" fill="rgb(100,100,100)" filter="url(#bl)"/>
<ellipse cx="124.0" cy="440.2" rx="4.6" ry="1.9600000000000002" fill="rgb(18,18,18)" filter="url(#bl)"/>
<ellipse cx="135.8" cy="440.2" rx="4.6" ry="1.7000000000000002" fill="rgb(171,171,171)" filter="url(#bl)"/>
<ellipse cx="147.6" cy="440.2" rx="4.6" ry="1.7200000000000002" fill="rgb(159,159,159)" filter="url(#bl)"/>
<ellipse cx="159.5" cy="440.2" rx="4.6" ry="1.86" fill="rgb(77,77,77)" filter="url(#bl)"/>
<ellipse cx="171.3" cy="440.2" rx="4.6" ry="1.9200000000000002" fill="rgb(42,42,42)" filter="url(#bl)"/>
<ellipse cx="41.0" cy="459.2" rx="4.6" ry="1.35" fill="rgb(30,30,30)" filter="url(#bl)"/>
<ellipse cx="52.9" cy="459.2" rx="4.6" ry="1.35" fill="rgb(30,30,30)" filter="url(#bl)"/>
<ellipse cx="64.7" cy="459.2" rx="4.6" ry="1.35" fill="rgb(100,100,100)" filter="url(#bl)"/>
<ellipse cx="76.5" cy="459.2" rx="4.6" ry="1.35" fill="rgb(124,124,124)" filter="url(#bl)"/>
<ellipse cx="88.4" cy="459.2" rx="4.6" ry="1.35" fill="rgb(30,30,30)" filter="url(#bl)"/>
<ellipse cx="100.2" cy="459.2" rx="4.6" ry="1.35" fill="rgb(30,30,30)" filter="url(#bl)"/>
<ellipse cx="112.1" cy="459.2" rx="4.6" ry="1.35" fill="rgb(112,112,112)" filter="url(#bl)"/>
<ellipse cx="124.0" cy="459.2" rx="4.6" ry="1.35" fill="rgb(136,136,136)" filter="url(#bl)"/>
<ellipse cx="135.8" cy="459.2" rx="4.6" ry="1.35" fill="rgb(18,18,18)" filter="url(#bl)"/>
<ellipse cx="147.6" cy="459.2" rx="4.6" ry="1.35" fill="rgb(18,18,18)" filter="url(#bl)"/>
<ellipse cx="159.5" cy="459.2" rx="4.6" ry="1.35" fill="rgb(124,124,124)" filter="url(#bl)"/>
<ellipse cx="171.3" cy="459.2" rx="4.6" ry="1.35" fill="rgb(136,136,136)" filter="url(#bl)"/>
<rect x="35.0" y="385.8" width="144.2" height="20.2" fill="none" stroke="#1a1a1a" stroke-width="1.9"/>
<rect x="35.0" y="406.0" width="144.2" height="21.1" fill="none" stroke="#1a1a1a" stroke-width="1.9"/>
<rect x="35.0" y="427.1" width="144.2" height="20.7" fill="none" stroke="#1a1a1a" stroke-width="1.9"/>
<rect x="35.0" y="447.8" width="144.2" height="20.2" fill="none" stroke="#1a1a1a" stroke-width="1.9"/>
<text x="183.6" y="398.8" font-size="8" fill="#6a6a6a" stroke="none" style="font-family:'Liberation Serif',serif">β-</text>
<text x="190.60" y="398.80" font-size="8.5" fill="#3a3a3a" stroke="#3a3a3a" stroke-width="0.22" textLength="24.40" lengthAdjust="spacingAndGlyphs">globin</text>
<text x="183.6" y="420.6" font-size="8" fill="#6a6a6a" stroke="none" style="font-family:'Liberation Serif',serif">γ-</text>
<text x="189.20" y="420.60" font-size="8.5" fill="#3a3a3a" stroke="#3a3a3a" stroke-width="0.22" textLength="24.70" lengthAdjust="spacingAndGlyphs">globin</text>
<text x="183.6" y="441.0" font-size="8" fill="#6a6a6a" stroke="none" style="font-family:'Liberation Serif',serif">α-</text>
<text x="190.80" y="441.00" font-size="8.5" fill="#3a3a3a" stroke="#3a3a3a" stroke-width="0.22" textLength="24.00" lengthAdjust="spacingAndGlyphs">globin</text>
<text x="183.6" y="460.8" font-size="8" fill="#6a6a6a" stroke="none" style="font-family:'Liberation Serif',serif">β-</text>
<text x="190.20" y="460.80" font-size="8.5" fill="#3a3a3a" stroke="#3a3a3a" stroke-width="0.22" textLength="18.60" lengthAdjust="spacingAndGlyphs">actin</text>
<text x="40.40" y="478.80" font-size="6.8" text-anchor="middle" fill="#3a3a3a" stroke="#3a3a3a" stroke-width="0.22">0</text>
<text x="52.25" y="478.80" font-size="6.8" text-anchor="middle" fill="#3a3a3a" stroke="#3a3a3a" stroke-width="0.22">2</text>
<text x="64.10" y="478.80" font-size="6.8" text-anchor="middle" fill="#3a3a3a" stroke="#3a3a3a" stroke-width="0.22">4</text>
<text x="75.95" y="478.80" font-size="6.8" text-anchor="middle" fill="#3a3a3a" stroke="#3a3a3a" stroke-width="0.22">6</text>
<text x="87.80" y="478.80" font-size="6.8" text-anchor="middle" fill="#3a3a3a" stroke="#3a3a3a" stroke-width="0.22">0</text>
<text x="99.65" y="478.80" font-size="6.8" text-anchor="middle" fill="#3a3a3a" stroke="#3a3a3a" stroke-width="0.22">2</text>
<text x="111.50" y="478.80" font-size="6.8" text-anchor="middle" fill="#3a3a3a" stroke="#3a3a3a" stroke-width="0.22">4</text>
<text x="123.35" y="478.80" font-size="6.8" text-anchor="middle" fill="#3a3a3a" stroke="#3a3a3a" stroke-width="0.22">6</text>
<text x="135.20" y="478.80" font-size="6.8" text-anchor="middle" fill="#3a3a3a" stroke="#3a3a3a" stroke-width="0.22">0</text>
<text x="147.05" y="478.80" font-size="6.8" text-anchor="middle" fill="#3a3a3a" stroke="#3a3a3a" stroke-width="0.22">2</text>
<text x="158.90" y="478.80" font-size="6.8" text-anchor="middle" fill="#3a3a3a" stroke="#3a3a3a" stroke-width="0.22">4</text>
<text x="170.75" y="478.80" font-size="6.8" text-anchor="middle" fill="#3a3a3a" stroke="#3a3a3a" stroke-width="0.22">6</text>
<text x="72.70" y="489.60" font-size="8.6" fill="#3a3a3a" stroke="#3a3a3a" stroke-width="0.22" textLength="68.00" lengthAdjust="spacingAndGlyphs">Day of differentiation</text>
<text x="221.70" y="378.20" font-size="12.2" fill="#111" stroke="#111" stroke-width="0.45" font-weight="bold" textLength="8.80" lengthAdjust="spacingAndGlyphs">D</text>
<line x1="267.90" y1="384.40" x2="267.90" y2="452.00" stroke="#111" stroke-width="1.8"/>
<line x1="264.60" y1="451.40" x2="267.80" y2="451.40" stroke="#111" stroke-width="1.0"/>
<text x="262.00" y="453.70" font-size="6.5" text-anchor="end" fill="#3a3a3a" stroke="#3a3a3a" stroke-width="0.22">0</text>
<line x1="266.00" y1="444.78" x2="267.80" y2="444.78" stroke="#111" stroke-width="0.9"/>
<line x1="264.60" y1="438.16" x2="267.80" y2="438.16" stroke="#111" stroke-width="1.0"/>
<text x="262.00" y="440.46" font-size="6.5" text-anchor="end" fill="#3a3a3a" stroke="#3a3a3a" stroke-width="0.22">10</text>
<line x1="266.00" y1="431.54" x2="267.80" y2="431.54" stroke="#111" stroke-width="0.9"/>
<line x1="264.60" y1="424.92" x2="267.80" y2="424.92" stroke="#111" stroke-width="1.0"/>
<text x="262.00" y="427.22" font-size="6.5" text-anchor="end" fill="#3a3a3a" stroke="#3a3a3a" stroke-width="0.22">20</text>
<line x1="266.00" y1="418.30" x2="267.80" y2="418.30" stroke="#111" stroke-width="0.9"/>
<line x1="264.60" y1="411.68" x2="267.80" y2="411.68" stroke="#111" stroke-width="1.0"/>
<text x="262.00" y="413.98" font-size="6.5" text-anchor="end" fill="#3a3a3a" stroke="#3a3a3a" stroke-width="0.22">30</text>
<line x1="266.00" y1="405.06" x2="267.80" y2="405.06" stroke="#111" stroke-width="0.9"/>
<line x1="264.60" y1="398.44" x2="267.80" y2="398.44" stroke="#111" stroke-width="1.0"/>
<text x="262.00" y="400.74" font-size="6.5" text-anchor="end" fill="#3a3a3a" stroke="#3a3a3a" stroke-width="0.22">40</text>
<line x1="266.00" y1="391.82" x2="267.80" y2="391.82" stroke="#111" stroke-width="0.9"/>
<line x1="264.60" y1="385.20" x2="267.80" y2="385.20" stroke="#111" stroke-width="1.0"/>
<text x="262.00" y="387.50" font-size="6.5" text-anchor="end" fill="#3a3a3a" stroke="#3a3a3a" stroke-width="0.22">50</text>
<line x1="267.80" y1="451.40" x2="308.10" y2="451.40" stroke="#111" stroke-width="1.4"/>
<line x1="277.50" y1="451.40" x2="277.50" y2="453.60" stroke="#222" stroke-width="0.9"/>
<line x1="288.10" y1="451.40" x2="288.10" y2="453.60" stroke="#222" stroke-width="0.9"/>
<line x1="298.75" y1="451.40" x2="298.75" y2="453.60" stroke="#222" stroke-width="0.9"/>
<text x="249.60" y="416.50" font-size="8.3" text-anchor="middle" fill="#3a3a3a" stroke="#3a3a3a" stroke-width="0.22" textLength="91.00" lengthAdjust="spacingAndGlyphs" transform="rotate(-90 249.60 416.50)">Total globins area mAU*min</text>
<rect x="273.30" y="403.60" width="8.00" height="47.20" fill="#981530"/>
<line x1="277.30" y1="403.60" x2="277.30" y2="400.40" stroke="#333" stroke-width="0.9"/>
<line x1="275.50" y1="400.40" x2="279.10" y2="400.40" stroke="#333" stroke-width="1.1"/>
<rect x="284.20" y="406.60" width="8.00" height="44.20" fill="#27397a"/>
<line x1="288.20" y1="406.60" x2="288.20" y2="397.00" stroke="#333" stroke-width="0.9"/>
<line x1="286.40" y1="397.00" x2="290.00" y2="397.00" stroke="#333" stroke-width="1.1"/>
<rect x="295.20" y="411.60" width="7.80" height="39.20" fill="#cf8a78"/>
<line x1="299.10" y1="411.60" x2="299.10" y2="409.00" stroke="#333" stroke-width="0.9"/>
<line x1="297.30" y1="409.00" x2="300.90" y2="409.00" stroke="#333" stroke-width="1.1"/>
<text x="273.20" y="467.60" font-size="6.5" fill="#3a3a3a" stroke="#3a3a3a" stroke-width="0.22" textLength="8.30" lengthAdjust="spacingAndGlyphs" transform="rotate(-40 273.20 467.60)">WT</text>
<text x="270.4" y="480.4" font-size="6.5" stroke="#3a3a3a" stroke-width="0.22" transform="rotate(-40 270.4 480.4)">KLF1<tspan font-size="3.8" dy="-1.8" fill="#8c8c8c" stroke="none">+/E325K</tspan></text>
<text x="291.4" y="475.4" font-size="6.5" stroke="#3a3a3a" stroke-width="0.22" transform="rotate(-40 291.4 475.4)">KLF1<tspan font-size="3.8" dy="-1.8" fill="#8c8c8c" stroke="none">+/−</tspan></text>
<text x="342.00" y="377.90" font-size="12.2" fill="#111" stroke="#111" stroke-width="0.45" font-weight="bold" textLength="7.90" lengthAdjust="spacingAndGlyphs">E</text>
<line x1="382.70" y1="385.00" x2="382.70" y2="452.00" stroke="#111" stroke-width="1.8"/>
<line x1="379.40" y1="451.40" x2="382.60" y2="451.40" stroke="#111" stroke-width="1.0"/>
<text x="377.00" y="453.70" font-size="6.5" text-anchor="end" fill="#3a3a3a" stroke="#3a3a3a" stroke-width="0.22">0.0</text>
<line x1="380.80" y1="443.20" x2="382.60" y2="443.20" stroke="#111" stroke-width="0.9"/>
<line x1="379.40" y1="435.00" x2="382.60" y2="435.00" stroke="#111" stroke-width="1.0"/>
<text x="377.00" y="437.30" font-size="6.5" text-anchor="end" fill="#3a3a3a" stroke="#3a3a3a" stroke-width="0.22">0.5</text>
<line x1="380.80" y1="426.80" x2="382.60" y2="426.80" stroke="#111" stroke-width="0.9"/>
<line x1="379.40" y1="418.60" x2="382.60" y2="418.60" stroke="#111" stroke-width="1.0"/>
<text x="377.00" y="420.90" font-size="6.5" text-anchor="end" fill="#3a3a3a" stroke="#3a3a3a" stroke-width="0.22">1.0</text>
<line x1="380.80" y1="410.40" x2="382.60" y2="410.40" stroke="#111" stroke-width="0.9"/>
<line x1="379.40" y1="402.20" x2="382.60" y2="402.20" stroke="#111" stroke-width="1.0"/>
<text x="377.00" y="404.50" font-size="6.5" text-anchor="end" fill="#3a3a3a" stroke="#3a3a3a" stroke-width="0.22">1.5</text>
<line x1="380.80" y1="394.00" x2="382.60" y2="394.00" stroke="#111" stroke-width="0.9"/>
<line x1="379.40" y1="385.80" x2="382.60" y2="385.80" stroke="#111" stroke-width="1.0"/>
<text x="377.00" y="388.10" font-size="6.5" text-anchor="end" fill="#3a3a3a" stroke="#3a3a3a" stroke-width="0.22">2.0</text>
<line x1="382.60" y1="451.40" x2="482.30" y2="451.40" stroke="#111" stroke-width="1.4"/>
<text x="352.00" y="417.60" font-size="8.3" stroke="#3a3a3a" stroke-width="0.3" text-anchor="middle" textLength="58.80" lengthAdjust="spacingAndGlyphs" transform="rotate(-90 352.00 417.60)"><tspan font-style="italic">BCL11A</tspan> expression</text>
<text x="362.30" y="417.60" font-size="8.3" text-anchor="middle" fill="#3a3a3a" stroke="#3a3a3a" stroke-width="0.3" textLength="61.50" lengthAdjust="spacingAndGlyphs" transform="rotate(-90 362.30 417.60)">relative to WT day 0</text>
<line x1="416.50" y1="385.00" x2="416.50" y2="451.40" stroke="#5a5a5a" stroke-width="1.0" stroke-dasharray="1 1"/>
<line x1="448.50" y1="385.00" x2="448.50" y2="451.40" stroke="#5a5a5a" stroke-width="1.0" stroke-dasharray="1 1"/>
<rect x="386.60" y="419.40" width="5.40" height="31.40" fill="#ecd0c8"/>
<rect x="394.40" y="414.00" width="5.40" height="36.80" fill="#d3897c"/>
<line x1="397.10" y1="414.00" x2="397.10" y2="410.40" stroke="#333" stroke-width="0.9"/>
<line x1="395.30" y1="410.40" x2="398.90" y2="410.40" stroke="#333" stroke-width="1.1"/>
<rect x="401.60" y="402.40" width="5.40" height="48.40" fill="#b5504a"/>
<line x1="404.30" y1="402.40" x2="404.30" y2="395.60" stroke="#333" stroke-width="0.9"/>
<line x1="402.50" y1="395.60" x2="406.10" y2="395.60" stroke="#333" stroke-width="1.1"/>
<rect x="409.40" y="441.00" width="5.40" height="9.80" fill="#9c1431"/>
<line x1="412.10" y1="441.00" x2="412.10" y2="438.40" stroke="#333" stroke-width="0.9"/>
<line x1="410.30" y1="438.40" x2="413.90" y2="438.40" stroke="#333" stroke-width="1.1"/>
<rect x="418.90" y="413.40" width="5.40" height="37.40" fill="#ecd0c8"/>
<line x1="421.60" y1="413.40" x2="421.60" y2="406.40" stroke="#333" stroke-width="0.9"/>
<line x1="419.80" y1="406.40" x2="423.40" y2="406.40" stroke="#333" stroke-width="1.1"/>
<rect x="426.50" y="427.10" width="5.40" height="23.70" fill="#d3897c"/>
<line x1="429.20" y1="427.10" x2="429.20" y2="425.00" stroke="#333" stroke-width="0.9"/>
<line x1="427.40" y1="425.00" x2="431.00" y2="425.00" stroke="#333" stroke-width="1.1"/>
<rect x="433.70" y="440.90" width="5.40" height="9.90" fill="#b5504a"/>
<line x1="436.40" y1="440.90" x2="436.40" y2="439.60" stroke="#333" stroke-width="0.9"/>
<line x1="434.60" y1="439.60" x2="438.20" y2="439.60" stroke="#333" stroke-width="1.1"/>
<rect x="441.30" y="450.20" width="5.40" height="0.60" fill="#9c1431"/>
<rect x="450.60" y="432.00" width="5.40" height="18.80" fill="#ecd0c8"/>
<line x1="453.30" y1="432.00" x2="453.30" y2="431.00" stroke="#333" stroke-width="0.9"/>
<line x1="451.50" y1="431.00" x2="455.10" y2="431.00" stroke="#333" stroke-width="1.1"/>
<rect x="458.20" y="430.90" width="5.40" height="19.90" fill="#d3897c"/>
<line x1="460.90" y1="430.90" x2="460.90" y2="429.20" stroke="#333" stroke-width="0.9"/>
<line x1="459.10" y1="429.20" x2="462.70" y2="429.20" stroke="#333" stroke-width="1.1"/>
<rect x="466.00" y="435.20" width="5.40" height="15.60" fill="#b5504a"/>
<line x1="468.70" y1="435.20" x2="468.70" y2="432.40" stroke="#333" stroke-width="0.9"/>
<line x1="466.90" y1="432.40" x2="470.50" y2="432.40" stroke="#333" stroke-width="1.1"/>
<rect x="473.00" y="433.90" width="5.40" height="16.90" fill="#9c1431"/>
<line x1="475.70" y1="433.90" x2="475.70" y2="430.70" stroke="#333" stroke-width="0.9"/>
<line x1="473.90" y1="430.70" x2="477.50" y2="430.70" stroke="#333" stroke-width="1.1"/>
<circle cx="429.00" cy="418.20" r="1.0" fill="#333"/>
<circle cx="433.25" cy="433.00" r="1.0" fill="#333"/>
<circle cx="436.40" cy="433.00" r="1.0" fill="#333"/>
<circle cx="439.55" cy="433.00" r="1.0" fill="#333"/>
<circle cx="440.65" cy="445.70" r="1.0" fill="#333"/>
<circle cx="443.80" cy="445.70" r="1.0" fill="#333"/>
<circle cx="446.95" cy="445.70" r="1.0" fill="#333"/>
<path d="M449.25 426.70H452.85M451.05 424.90V428.50" stroke="#444" stroke-width="0.85" fill="none"/>
<path d="M453.95 426.70H457.55M455.75 424.90V428.50" stroke="#444" stroke-width="0.85" fill="none"/>
<circle cx="464.75" cy="428.10" r="1.0" fill="#333"/>
<circle cx="467.90" cy="428.10" r="1.0" fill="#333"/>
<circle cx="471.05" cy="428.10" r="1.0" fill="#333"/>
<path d="M471.85 424.60H475.45M473.65 422.80V426.40" stroke="#444" stroke-width="0.85" fill="none"/>
<path d="M476.55 424.60H480.15M478.35 422.80V426.40" stroke="#444" stroke-width="0.85" fill="none"/>
<rect x="487.40" y="398.10" width="3.00" height="3.00" fill="#d4c4c6"/>
<text x="494.60" y="402.10" font-size="7.0" fill="#3a3a3a" stroke="#3a3a3a" stroke-width="0.22" textLength="18.40" lengthAdjust="spacingAndGlyphs">Day 0</text>
<rect x="487.40" y="408.05" width="3.00" height="3.00" fill="#b08680"/>
<text x="494.60" y="412.05" font-size="7.0" fill="#3a3a3a" stroke="#3a3a3a" stroke-width="0.22" textLength="18.40" lengthAdjust="spacingAndGlyphs">Day 2</text>
<rect x="487.40" y="418.00" width="3.00" height="3.00" fill="#86524e"/>
<text x="494.60" y="422.00" font-size="7.0" fill="#3a3a3a" stroke="#3a3a3a" stroke-width="0.22" textLength="18.40" lengthAdjust="spacingAndGlyphs">Day 4</text>
<rect x="487.40" y="427.95" width="3.00" height="3.00" fill="#6c1426"/>
<text x="494.60" y="431.95" font-size="7.0" fill="#3a3a3a" stroke="#3a3a3a" stroke-width="0.22" textLength="18.40" lengthAdjust="spacingAndGlyphs">Day 6</text>
<text x="393.70" y="463.50" font-size="6.5" fill="#3a3a3a" stroke="#3a3a3a" stroke-width="0.22" textLength="10.00" lengthAdjust="spacingAndGlyphs">WT</text>
<text x="413.10" y="463.50" font-size="6.5" fill="#3a3a3a" stroke="#3a3a3a" stroke-width="0.22" textLength="14.80" lengthAdjust="spacingAndGlyphs">KLF1</text>
<text x="428.30" y="461.90" font-size="4.2" fill="#8c8c8c" stroke="none" textLength="15.00" lengthAdjust="spacingAndGlyphs">+/E325K</text>
<text x="445.40" y="463.50" font-size="6.5" fill="#3a3a3a" stroke="#3a3a3a" stroke-width="0.22" textLength="14.60" lengthAdjust="spacingAndGlyphs">KLF1</text>
<text x="460.40" y="461.90" font-size="4.2" fill="#8c8c8c" stroke="none" textLength="6.60" lengthAdjust="spacingAndGlyphs">+/−</text>
</g>
<rect x="0.5" y="0.5" width="519" height="499" fill="none" stroke="#505050" stroke-width="1"/>
</svg>
</body></html>
